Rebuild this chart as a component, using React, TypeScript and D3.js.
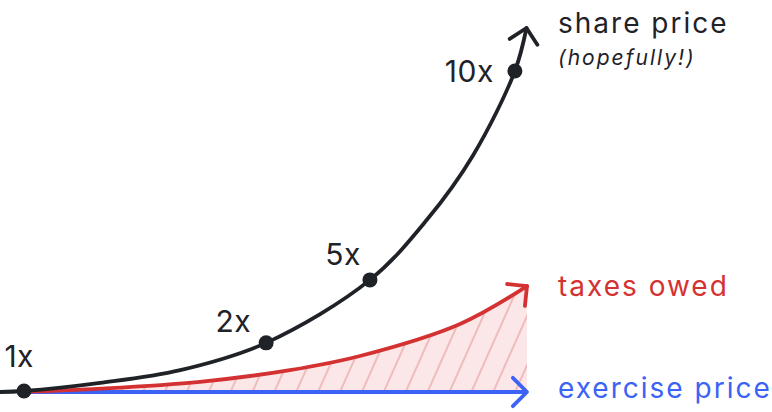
import React from "react";
import * as d3 from "d3";

// time (0–100) vs. relative height (0–100)
const sharePriceT = [0, 4.55, 19, 34.2, 50.5, 70.2, 81, 89.75, 97.7, 99.9];
const sharePriceV = [0, 0.27, 2.5, 6.0, 13.5, 30.8, 47.3, 65.0, 88.2, 100];

const taxesT = [4.55, 19, 37.95, 55, 68.3, 87.3, 100];
const taxesV = [0, 0.9, 2.8, 6.0, 9.9, 18.7, 29.1];

const exerciseT = [4.55, 100];
const exerciseV = [0, 0];

const milestoneLabels = ["1x", "2x", "5x", "10x"];
const milestoneT = [4.55, 50.5, 70.2, 97.7];
const milestoneV = [0.27, 13.5, 30.8, 88.2];

const seriesLabels = ["share price", "taxes owed", "exercise price"];
const shareNote = "(hopefully!)";

const W = 772;
const H = 412;
const BLACK = "#1f2227";
const RED = "#d43232";
const BLUE = "#3c62f6";
const FONT = "Inter, 'Noto Sans', sans-serif";

// label layout (style, not data)
const labelOffset: Record<string, { dx: number; dy: number }> = {
  "1x": { dx: 10, dy: -24 },
  "2x": { dx: -15, dy: -11 },
  "5x": { dx: -9, dy: -15 },
  "10x": { dx: -21, dy: 11 },
};

function chevron(tip: [number, number], angDeg: number, len = 20) {
  const ang = (angDeg * Math.PI) / 180;
  const a1 = ang + Math.PI - Math.PI / 4;
  const a2 = ang + Math.PI + Math.PI / 4;
  const p1 = [tip[0] + len * Math.cos(a1), tip[1] + len * Math.sin(a1)];
  const p2 = [tip[0] + len * Math.cos(a2), tip[1] + len * Math.sin(a2)];
  return `M${p1[0]},${p1[1]}L${tip[0]},${tip[1]}L${p2[0]},${p2[1]}`;
}

export default function App() {
  const x = d3.scaleLinear().domain([0, 100]).range([0, 527]);
  const y = d3.scaleLinear().domain([0, 100]).range([392, 28]);

  const share = sharePriceT.map((t, i) => [t, sharePriceV[i]] as [number, number]);
  const taxes = taxesT.map((t, i) => [t, taxesV[i]] as [number, number]);
  const exercise = exerciseT.map((t, i) => [t, exerciseV[i]] as [number, number]);

  const curve = d3.curveCatmullRom.alpha(0.5);
  const line = d3
    .line<[number, number]>()
    .x((d) => x(d[0]))
    .y((d) => y(d[1]))
    .curve(curve);

  const area = d3
    .area<[number, number]>()
    .x((d) => x(d[0]))
    .y0(y(0))
    .y1((d) => y(d[1]))
    .curve(curve);

  const tipOf = (arr: [number, number][]) => {
    const a = arr[arr.length - 1];
    return [x(a[0]), y(a[1])] as [number, number];
  };

  const labelX = 558;
  const SW = 3.8;
  const arrowStyle = {
    fill: "none",
    strokeWidth: SW,
    strokeLinecap: "round" as const,
    strokeLinejoin: "round" as const,
  };

  return (
    <svg
      width={W}
      height={H}
      style={{ position: "absolute", left: 0, top: 0, background: "#fff" }}
      fontFamily={FONT}
    >
      <defs>
        <pattern
          id="hatch"
          width={20}
          height={40}
          patternUnits="userSpaceOnUse"
          patternTransform="rotate(24)"
        >
          <rect width={20} height={40} fill="#fbe7e7" />
          <line x1={10} y1={0} x2={10} y2={40} stroke="#eeb0b0" strokeWidth={1.6} />
        </pattern>
      </defs>

      <path d={area(taxes) || ""} fill="url(#hatch)" />

      {/* exercise price */}
      <path d={line(exercise) || ""} fill="none" stroke={BLUE} strokeWidth={SW} />
      <path d={chevron(tipOf(exercise), 0, 20)} stroke={BLUE} {...arrowStyle} />

      {/* taxes owed */}
      <path d={line(taxes) || ""} fill="none" stroke={RED} strokeWidth={SW} strokeLinecap="round" />
      <path d={chevron(tipOf(taxes), -39, 20)} stroke={RED} {...arrowStyle} />

      {/* share price */}
      <path d={line(share) || ""} fill="none" stroke={BLACK} strokeWidth={SW} strokeLinecap="round" />
      <path d={chevron(tipOf(share), -78, 20)} stroke={BLACK} {...arrowStyle} />

      {milestoneLabels.map((lab, i) => {
        const cx = x(milestoneT[i]);
        const cy = y(milestoneV[i]);
        const o = labelOffset[lab];
        return (
          <g key={lab}>
            <circle cx={cx} cy={cy} r={7.5} fill={BLACK} />
            <text
              x={cx + o.dx}
              y={cy + o.dy}
              textAnchor="end"
              fontSize={30}
              letterSpacing={0.5}
              fill={BLACK}
            >
              {lab}
            </text>
          </g>
        );
      })}

      <text x={labelX} y={33} fontSize={28} letterSpacing={2} fill={BLACK}>
        {seriesLabels[0]}
      </text>
      <text x={labelX} y={65} fontSize={21} letterSpacing={2} fontStyle="italic" fill={BLACK}>
        {shareNote}
      </text>
      <text x={labelX} y={296} fontSize={28} letterSpacing={2} fill={RED}>
        {seriesLabels[1]}
      </text>
      <text x={labelX} y={398} fontSize={28} letterSpacing={2} fill={BLUE}>
        {seriesLabels[2]}
      </text>
    </svg>
  );
}
